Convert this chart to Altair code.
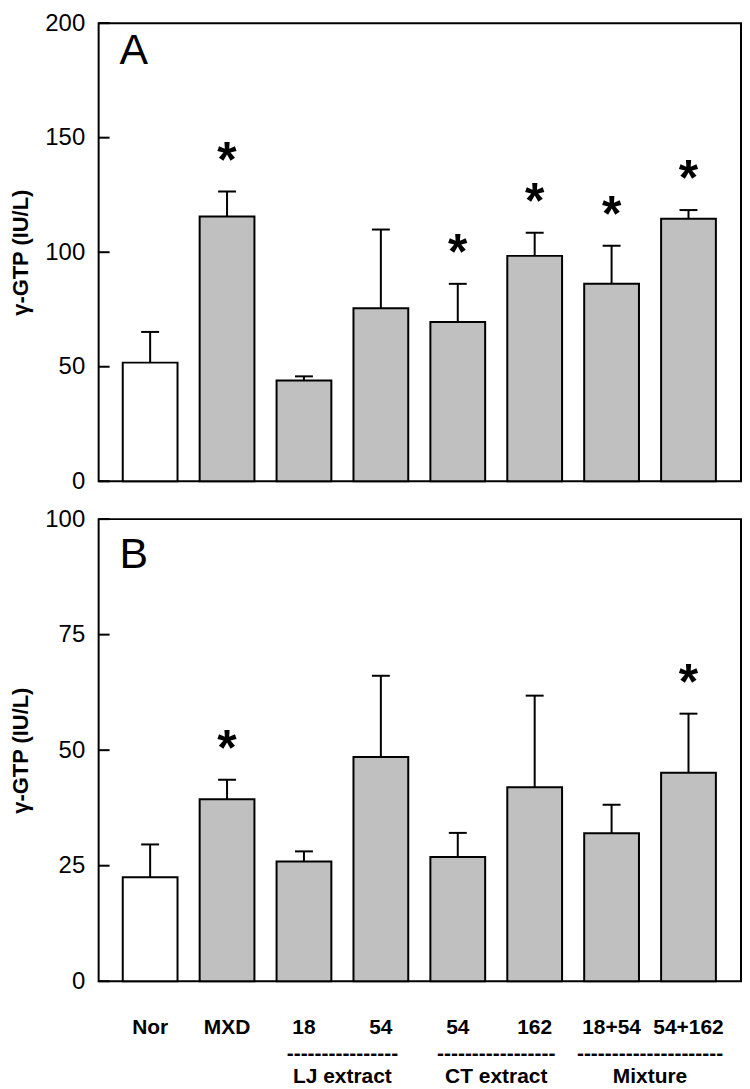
import altair as alt
import pandas as pd

categories = ["Nor", "MXD", "18", "54", "54", "162", "18+54", "54+162"]
groups = ["", "", "LJ extract", "LJ extract", "CT extract", "CT extract", "Mixture", "Mixture"]

a_mean = [51.8, 115.6, 44.0, 75.5, 69.5, 98.4, 86.2, 114.6]
a_sem = [13.4, 10.9, 1.8, 34.4, 16.7, 10.1, 16.6, 3.8]
a_sig = [0, 1, 0, 0, 1, 1, 1, 1]

b_mean = [22.5, 39.4, 25.9, 48.5, 26.9, 42.0, 32.0, 45.1]
b_sem = [7.1, 4.2, 2.2, 17.6, 5.2, 19.8, 6.2, 12.8]
b_sig = [0, 1, 0, 0, 0, 0, 0, 1]

a_ticks = [0, 50, 100, 150, 200]
b_ticks = [0, 25, 50, 75, 100]

group_names = ["LJ extract", "CT extract", "Mixture"]
group_dashes = ["-" * 16, "-" * 17, "-" * 21]

FONT = "Liberation Sans"
W = 645
XDOM = [-0.605, 7.618]


def panel(mean, sem, sig, ticks, ymax, letter, letter_y, height, show_labels):
    df = pd.DataFrame({
        "idx": list(range(len(categories))),
        "cat": categories,
        "group": groups,
        "mean": mean,
        "sem": sem,
        "sig": sig,
    })
    base = alt.Chart(df).transform_calculate(upper="datum.mean + datum.sem")
    xs = alt.Scale(domain=XDOM, nice=False, zero=False)
    x = alt.X("idx:Q", scale=xs, axis=None)
    ys = alt.Scale(domain=[0, ymax], nice=False, zero=True)

    bars = base.mark_bar(size=55, stroke="black", strokeWidth=2).encode(
        x=x,
        y=alt.Y("mean:Q", scale=ys,
                axis=alt.Axis(values=ticks, title="γ-GTP (IU/L)")),
        fill=alt.condition(alt.datum.cat == "Nor", alt.value("white"), alt.value("#c0c0c0")),
    )
    err = base.mark_rule(color="black", strokeWidth=2).encode(
        x=x, y=alt.Y("mean:Q", scale=ys), y2="upper:Q"
    )
    caps = base.mark_tick(orient="horizontal", size=18, thickness=2,
                          color="black", opacity=1).encode(
        x=x, y=alt.Y("upper:Q", scale=ys)
    )
    stars = base.transform_filter("datum.sig == 1").mark_text(
        text="*", fontSize=50, fontWeight="bold", font=FONT, color="black",
        baseline="alphabetic", dy=-15
    ).encode(x=x, y=alt.Y("upper:Q", scale=ys))

    tick_rules = alt.Chart(pd.DataFrame({"t": ticks})).mark_rule(
        color="black", strokeWidth=2
    ).encode(x=alt.value(0), x2=alt.value(11), y=alt.Y("t:Q", scale=ys))

    letter_txt = alt.Chart(pd.DataFrame({"letter": [letter]})).mark_text(
        fontSize=43, font=FONT, color="black", align="left", baseline="alphabetic"
    ).encode(text="letter:N", x=alt.value(21), y=alt.value(letter_y))

    layers = [bars, err, caps, stars, tick_rules, letter_txt]

    if show_labels:
        lab = base.mark_text(fontSize=21, fontWeight="bold", font=FONT,
                             color="black", baseline="alphabetic").encode(
            x=x, y=alt.value(height + 53), text="cat:N"
        )
        gdf = pd.DataFrame({"group": group_names, "dash": group_dashes})
        gbase = base.transform_filter("datum.group != ''").transform_aggregate(
            cx="mean(idx)", groupby=["group"]
        ).transform_lookup(
            lookup="group", from_=alt.LookupData(gdf, "group", ["dash"])
        )
        gx = alt.X("cx:Q", scale=xs, axis=None)
        dashes = gbase.mark_text(fontSize=21, fontWeight="bold", font=FONT,
                                 color="black", baseline="alphabetic").encode(
            x=gx, y=alt.value(height + 79), text="dash:N"
        )
        glab = gbase.mark_text(fontSize=21, fontWeight="bold", font=FONT,
                               color="black", baseline="alphabetic").encode(
            x=gx, y=alt.value(height + 102), text="group:N"
        )
        layers += [lab, dashes, glab]

    return alt.layer(*layers).properties(width=W, height=height)


top = panel(a_mean, a_sem, a_sig, a_ticks, 200, "A", 41, 460, False)
bottom = panel(b_mean, b_sem, b_sig, b_ticks, 100, "B", 49, 464, True)

chart = alt.vconcat(top, bottom, spacing=12).properties(
    padding={"top": 0, "left": 0, "right": 0, "bottom": 0}
).configure_view(
    stroke="black", strokeWidth=2
).configure_axis(
    labelFont=FONT, labelFontSize=24, labelColor="black",
    titleFont=FONT, titleFontSize=22, titleFontWeight="bold", titleColor="black",
    tickSize=0, domain=False, grid=False, labelPadding=14, titlePadding=12,
)

chart.save("out.html", embed_options={"renderer": "svg", "actions": False})
